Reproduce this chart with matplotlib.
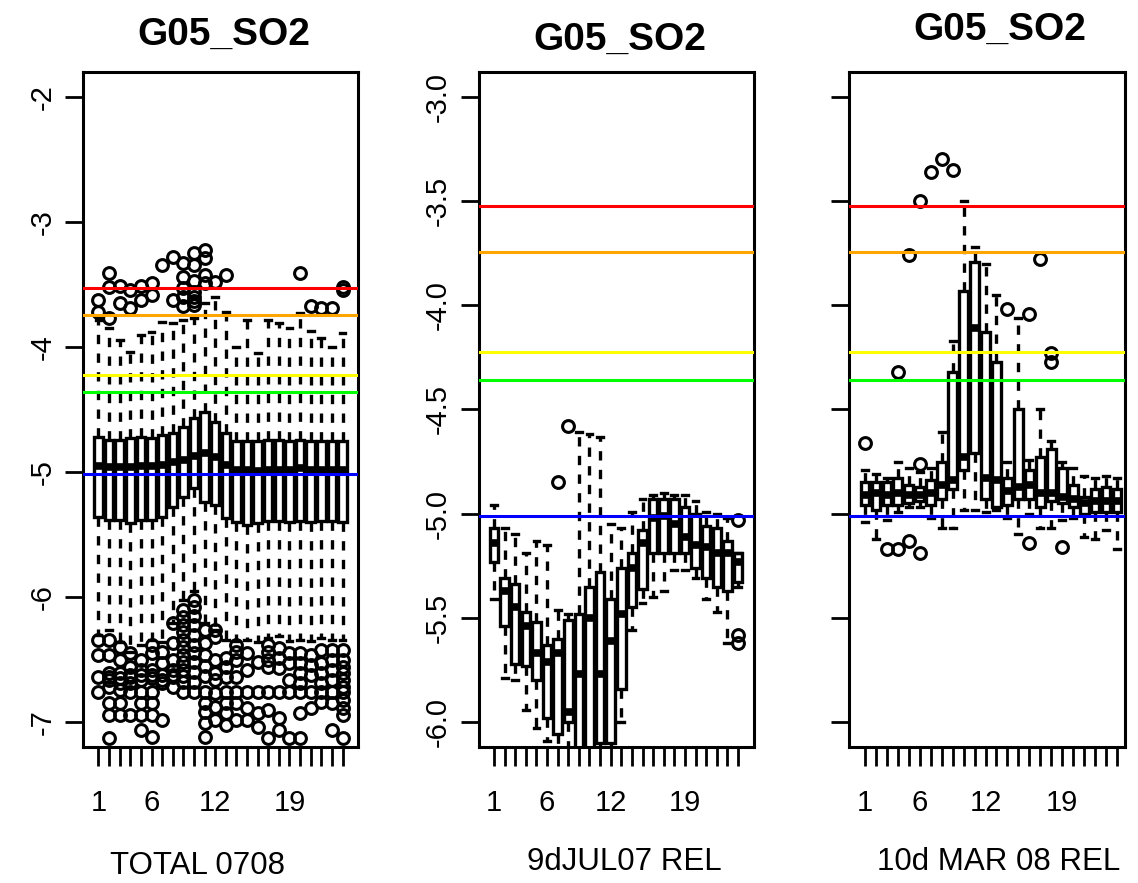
import numpy as np
import matplotlib.pyplot as plt

plt.rcParams['font.family'] = ['Liberation Sans', 'DejaVu Sans']
plt.rcParams['axes.unicode_minus'] = False

# ---------------- data ----------------
hours = list(range(1, 25))
shown_labels = {1: '1', 6: '6', 12: '12', 19: '19'}
title = 'G05_SO2'
xlabels = ['TOTAL 0708', '9dJUL07 REL', '10d MAR 08 REL']
thresholds = [-3.525, -3.745, -4.222, -4.357, -5.012]
thr_colors = ['#ff0000', '#ffa500', '#ffff00', '#00ff00', '#0000ff']

# panel 1: TOTAL 0708
p1_whishi = [-3.78, -3.85, -3.94, -4.04, -3.90, -3.88, -3.80, -3.81, -3.78, -3.77, -3.65, -3.60,
             -3.72, -4.00, -3.78, -4.05, -3.78, -3.81, -3.85, -3.73, -3.87, -3.93, -4.00, -3.89]
p1_q3 = [-4.72, -4.74, -4.74, -4.73, -4.72, -4.73, -4.70, -4.69, -4.64, -4.57, -4.52, -4.60,
         -4.69, -4.75, -4.75, -4.75, -4.74, -4.74, -4.75, -4.74, -4.75, -4.75, -4.75, -4.75]
p1_med = [-4.95, -4.96, -4.96, -4.96, -4.95, -4.95, -4.94, -4.92, -4.90, -4.87, -4.85, -4.88,
          -4.94, -4.98, -4.98, -4.99, -4.98, -4.98, -4.98, -4.97, -4.98, -4.98, -4.98, -4.98]
p1_q1 = [-5.36, -5.38, -5.38, -5.41, -5.38, -5.38, -5.36, -5.28, -5.20, -5.13, -5.24, -5.26,
         -5.37, -5.40, -5.42, -5.41, -5.39, -5.39, -5.40, -5.39, -5.40, -5.39, -5.39, -5.40]
p1_whislo = [-6.30, -6.26, -6.36, -6.44, -6.38, -6.34, -6.36, -6.21, -6.02, -5.95, -6.21, -6.26,
             -6.34, -6.35, -6.34, -6.36, -6.33, -6.31, -6.35, -6.34, -6.35, -6.33, -6.34, -6.34]
p1_out = [
    [-3.62, -3.72, -6.34, -6.46, -6.64, -6.76],
    [-3.41, -3.52, -3.77, -6.34, -6.46, -6.61, -6.64, -6.66, -6.72, -6.85, -6.94, -7.13],
    [-3.51, -3.65, -6.40, -6.50, -6.61, -6.65, -6.69, -6.74, -6.85, -6.94],
    [-3.54, -3.69, -6.45, -6.56, -6.62, -6.64, -6.69, -6.76, -6.94],
    [-3.51, -3.62, -6.50, -6.58, -6.62, -6.66, -6.76, -6.85, -6.94, -7.06],
    [-3.49, -3.58, -6.38, -6.45, -6.58, -6.62, -6.65, -6.76, -6.85, -6.94, -7.12],
    [-3.34, -6.44, -6.53, -6.62, -6.66, -6.69, -6.98],
    [-3.28, -3.62, -6.21, -6.37, -6.50, -6.58, -6.62, -6.64, -6.72],
    [-3.33, -3.44, -3.53, -3.60, -3.67, -6.10, -6.16, -6.22, -6.28, -6.34, -6.40, -6.46,
     -6.52, -6.58, -6.63, -6.68, -6.76],
    [-3.25, -3.34, -3.47, -3.56, -3.60, -3.63, -3.66, -6.02, -6.08, -6.15, -6.22, -6.30,
     -6.38, -6.45, -6.52, -6.60, -6.68, -6.76],
    [-3.22, -3.29, -3.42, -3.49, -6.26, -6.37, -6.46, -6.55, -6.63, -6.76, -6.85, -6.92,
     -7.01, -7.12],
    [-3.48, -6.26, -6.32, -6.50, -6.61, -6.66, -6.77, -6.88, -6.98],
    [-3.42, -6.49, -6.56, -6.64, -6.76, -6.85, -6.93, -7.02],
    [-6.38, -6.44, -6.50, -6.64, -6.76, -6.85, -6.98],
    [-6.45, -6.58, -6.76, -6.89, -6.98],
    [-6.52, -6.76, -6.93, -7.04],
    [-6.38, -6.44, -6.50, -6.56, -6.76, -6.90, -7.13],
    [-6.41, -6.49, -6.57, -6.76, -6.97, -7.06],
    [-6.45, -6.53, -6.66, -6.76, -7.13],
    [-3.41, -6.45, -6.53, -6.61, -6.69, -6.76, -6.93, -7.13],
    [-3.67, -6.46, -6.54, -6.62, -6.76, -6.89],
    [-3.69, -6.42, -6.53, -6.61, -6.69, -6.76, -6.84],
    [-3.69, -6.42, -6.50, -6.58, -6.66, -6.76, -6.85, -7.06],
    [-3.52, -3.54, -6.42, -6.50, -6.56, -6.61, -6.66, -6.72, -6.76, -6.82, -6.89, -6.94, -7.13],
]

# panel 2: 9dJUL07 REL
p2_whishi = [-4.96, -5.07, -5.10, -5.19, -5.13, -5.15, -5.46, -5.48, -4.61, -4.62, -4.63, -5.05,
             -5.07, -4.99, -4.93, -4.91, -4.90, -4.91, -4.91, -4.94, -4.99, -5.00, -5.02, -5.19]
p2_q3 = [-5.07, -5.31, -5.34, -5.47, -5.52, -5.63, -5.60, -5.51, -5.48, -5.35, -5.28, -5.41,
         -5.26, -5.19, -5.08, -4.93, -4.93, -4.93, -4.97, -5.00, -5.06, -5.07, -5.13, -5.19]
p2_med = [-5.14, -5.37, -5.45, -5.54, -5.67, -5.71, -5.67, -5.95, -5.77, -5.50, -5.77, -5.61,
          -5.48, -5.26, -5.14, -5.02, -5.01, -5.05, -5.11, -5.15, -5.16, -5.19, -5.19, -5.23]
p2_q1 = [-5.23, -5.54, -5.72, -5.73, -5.80, -5.98, -6.06, -6.00, -6.30, -6.30, -6.10, -6.10,
         -5.84, -5.45, -5.36, -5.19, -5.19, -5.19, -5.19, -5.26, -5.31, -5.35, -5.37, -5.33]
p2_whislo = [-5.41, -5.79, -5.80, -5.94, -6.03, -6.09, -6.25, -6.30, -6.50, -6.50, -6.30, -6.30,
             -6.00, -5.56, -5.43, -5.40, -5.37, -5.27, -5.27, -5.31, -5.41, -5.47, -5.62, -5.35]
p2_out = [[], [], [], [], [], [], [-4.85], [-4.58], [], [], [], [],
          [], [], [], [], [], [], [], [], [], [], [], [-5.03, -5.58, -5.62]]

# panel 3: 10d MAR 08 REL
p3_whishi = [-4.79, -4.81, -4.83, -4.75, -4.78, -4.80, -4.78, -4.61, -4.17, -3.50, -3.72, -3.80,
             -3.95, -4.75, -4.06, -4.74, -4.50, -4.65, -4.75, -4.78, -4.82, -4.83, -4.82, -4.83]
p3_q3 = [-4.85, -4.85, -4.85, -4.83, -4.86, -4.87, -4.84, -4.75, -4.32, -3.93, -3.79, -4.13,
         -4.27, -4.83, -4.50, -4.79, -4.73, -4.69, -4.78, -4.86, -4.92, -4.88, -4.87, -4.88]
p3_med = [-4.91, -4.90, -4.91, -4.90, -4.91, -4.91, -4.90, -4.86, -4.84, -4.73, -4.11, -4.83,
          -4.84, -4.89, -4.87, -4.86, -4.90, -4.90, -4.92, -4.93, -4.95, -4.94, -4.94, -4.94]
p3_q1 = [-4.96, -4.98, -4.96, -4.96, -4.95, -4.94, -4.96, -4.93, -4.88, -4.79, -4.71, -4.93,
         -4.97, -4.96, -4.93, -4.93, -4.97, -4.94, -4.95, -4.97, -5.00, -4.99, -4.99, -4.99]
p3_whislo = [-5.04, -5.12, -5.03, -4.99, -4.97, -4.97, -5.02, -5.07, -5.07, -4.98, -4.98, -4.99,
             -4.98, -5.02, -5.10, -5.00, -5.07, -5.07, -5.03, -5.02, -5.11, -5.12, -5.08, -5.17]
p3_out = [[-4.66], [], [-5.17], [-4.32, -5.17], [-3.76, -5.13], [-3.50, -4.76, -5.19],
          [-3.36], [-3.30], [-3.35], [], [], [], [], [-4.02], [], [-4.04, -5.14],
          [-3.78], [-4.23, -4.27], [-5.16], [], [], [], [], []]

panels = [
    (p1_whishi, p1_q3, p1_med, p1_q1, p1_whislo, p1_out),
    (p2_whishi, p2_q3, p2_med, p2_q1, p2_whislo, p2_out),
    (p3_whishi, p3_q3, p3_med, p3_q1, p3_whislo, p3_out),
]

# ---------------- layout (pixels -> figure fractions) ----------------
W, H = 1138, 883
rects = [[83, 72, 275, 675], [478.5, 72, 275, 675], [849, 72, 276, 675]]
ylims = [(-7.2, -1.8), (-6.12, -2.88), (-6.12, -2.88)]
xlims = [(-0.46, 25.46), (-0.46, 25.46), (-0.46, 24.73)]
yticks = [[-7, -6, -5, -4, -3, -2],
          [-6.0, -5.5, -5.0, -4.5, -4.0, -3.5, -3.0],
          [-6.0, -5.5, -5.0, -4.5, -4.0, -3.5, -3.0]]
ytick_fmt = ['{:.0f}', '{:.1f}', None]
title_pos = [(224, 35), (620, 40), (1000, 30)]
xlabel_pos = [(198, 866), (624, 862), (999, 862)]

fig = plt.figure(figsize=(W / 100, H / 100), dpi=100)

for k, (whishi, q3, med, q1, whislo, out) in enumerate(panels):
    l, t, w, h = rects[k]
    ax = fig.add_axes([l / W, 1 - (t + h) / H, w / W, h / H])
    stats = []
    for i in range(len(hours)):
        stats.append(dict(med=med[i], q1=q1[i], q3=q3[i], whislo=whislo[i],
                          whishi=whishi[i], fliers=out[i]))
    ax.bxp(stats, positions=hours, widths=0.8, capwidths=0.55, patch_artist=True,
           boxprops=dict(facecolor='white', edgecolor='black', lw=2.4),
           medianprops=dict(color='black', lw=5.5, solid_capstyle='butt'),
           whiskerprops=dict(color='black', lw=2.4, linestyle=(0, (2.8, 2.8))),
           capprops=dict(color='black', lw=2.4),
           flierprops=dict(marker='o', markerfacecolor='none', markeredgecolor='black',
                           markersize=8.5, markeredgewidth=2.2))
    for v, c in zip(thresholds, thr_colors):
        ax.axhline(v, color=c, lw=2.2, zorder=5)

    ax.set_xlim(*xlims[k])
    ax.set_ylim(*ylims[k])
    ax.set_xticks(hours)
    ax.set_xticklabels([shown_labels.get(x, '') for x in hours], fontsize=21)
    ax.set_yticks(yticks[k])
    if ytick_fmt[k] is None:
        ax.set_yticklabels([])
    else:
        ax.set_yticklabels([ytick_fmt[k].format(v) for v in yticks[k]], fontsize=21,
                           rotation=90, va='center')
    ax.tick_params(axis='x', length=14, width=2, pad=16)
    ax.tick_params(axis='y', length=13, width=2, pad=6)
    for s in ax.spines.values():
        s.set_linewidth(2.2)
    fig.text(xlabel_pos[k][0] / W, 1 - xlabel_pos[k][1] / H, xlabels[k], fontsize=22.5,
             ha='center', va='center')
    fig.text(title_pos[k][0] / W, 1 - title_pos[k][1] / H, title, fontsize=28,
             fontweight='bold', ha='center', va='center')

fig.savefig('out.png', dpi=100)
